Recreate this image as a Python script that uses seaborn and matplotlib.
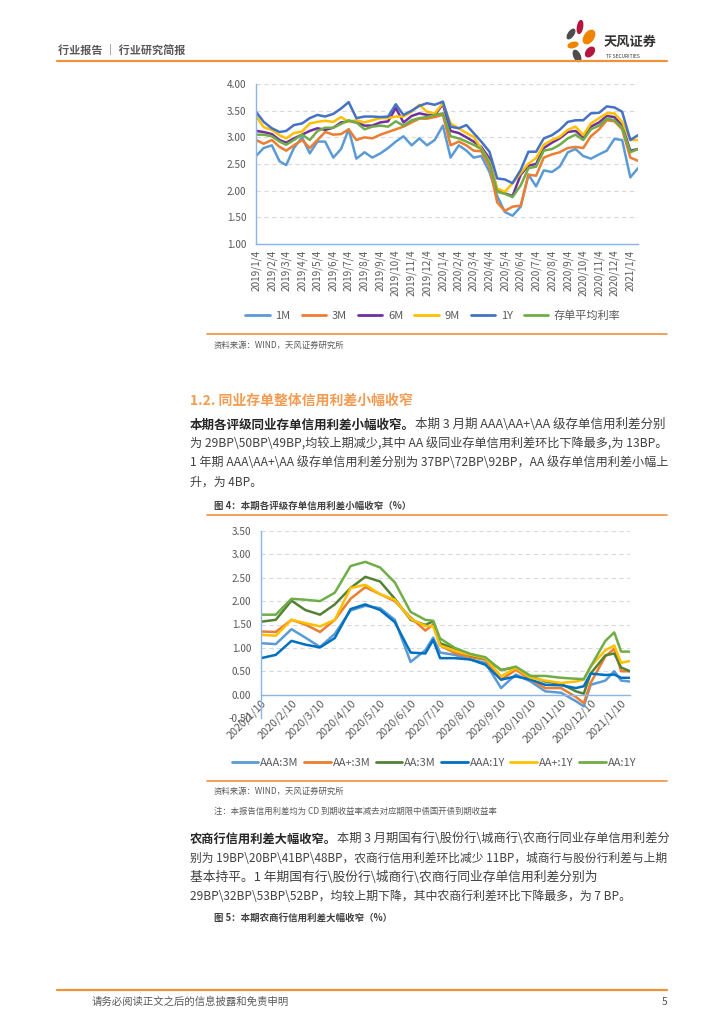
import pandas as pd
import matplotlib
matplotlib.use("Agg")
import matplotlib.pyplot as plt
import matplotlib.dates as mdates
from matplotlib.lines import Line2D
from matplotlib.patches import Ellipse
from matplotlib.ticker import FixedLocator, FuncFormatter
import seaborn as sns

sns.set_theme(style="white")
plt.rcParams['font.family'] = ['Noto Sans CJK SC', 'DejaVu Sans']
plt.rcParams['axes.unicode_minus'] = False

W, H = 724, 1024

# ---------------- chart 1 data: CD yields by tenor (%) ----------------
series1 = ['1M', '3M', '6M', '9M', '1Y', '存单平均利率']
colors1 = ['#5B9BD5', '#ED7D31', '#7030A0', '#FFC000', '#4472C4', '#70AD47']

yield_1m = [2.65, 2.80, 2.85, 2.55, 2.48, 2.80, 3.00, 2.70, 2.92, 2.92,
            2.62, 2.78, 3.15, 2.60, 2.72, 2.62, 2.70, 2.80, 2.92, 3.02,
            2.85, 2.98, 2.85, 2.95, 3.22, 2.62, 2.85, 2.75, 2.62, 2.65,
            2.35, 1.90, 1.60, 1.53, 1.70, 2.30, 2.08, 2.38, 2.35, 2.45,
            2.72, 2.78, 2.65, 2.60, 2.68, 2.75, 2.97, 2.95, 2.25, 2.42]
yield_3m = [2.95, 2.88, 2.95, 2.82, 2.75, 2.85, 2.95, 2.80, 2.95, 3.10,
            3.05, 3.06, 3.15, 2.95, 3.00, 2.98, 3.05, 3.10, 3.15, 3.20,
            3.28, 3.35, 3.35, 3.38, 3.42, 2.85, 2.92, 2.85, 2.75, 2.74,
            2.45, 1.78, 1.62, 1.70, 1.72, 2.30, 2.28, 2.62, 2.68, 2.72,
            2.80, 2.82, 2.80, 3.02, 3.15, 3.32, 3.30, 3.15, 2.62, 2.56]
yield_6m = [3.12, 3.10, 3.06, 2.95, 2.90, 2.98, 3.05, 3.12, 3.17, 3.14,
            3.18, 3.28, 3.30, 3.28, 3.22, 3.22, 3.28, 3.30, 3.55, 3.28,
            3.40, 3.45, 3.42, 3.42, 3.62, 3.12, 3.08, 3.00, 2.92, 2.82,
            2.60, 2.00, 1.95, 1.90, 2.30, 2.47, 2.50, 2.80, 2.90, 2.98,
            3.10, 3.12, 3.00, 3.20, 3.28, 3.40, 3.38, 3.22, 2.75, 2.78]
yield_9m = [3.40, 3.19, 3.14, 3.04, 2.98, 3.08, 3.11, 3.26, 3.29, 3.31,
            3.29, 3.38, 3.29, 3.32, 3.28, 3.32, 3.36, 3.36, 3.39, 3.39,
            3.48, 3.61, 3.48, 3.45, 3.64, 3.26, 3.17, 3.08, 3.01, 2.79,
            2.54, 2.04, 1.98, 2.14, 2.33, 2.51, 2.61, 2.86, 2.95, 3.01,
            3.14, 3.20, 3.04, 3.26, 3.36, 3.45, 3.45, 3.29, 2.95, 2.95]
yield_1y = [3.48, 3.29, 3.17, 3.10, 3.12, 3.23, 3.26, 3.36, 3.42, 3.39,
            3.44, 3.54, 3.66, 3.36, 3.39, 3.39, 3.38, 3.39, 3.62, 3.42,
            3.50, 3.59, 3.64, 3.61, 3.67, 3.20, 3.17, 3.23, 3.08, 2.92,
            2.73, 2.23, 2.21, 2.14, 2.39, 2.73, 2.73, 2.98, 3.04, 3.14,
            3.29, 3.32, 3.32, 3.45, 3.46, 3.58, 3.56, 3.48, 2.95, 3.04]
yield_avg = [3.05, 3.05, 3.02, 2.92, 2.86, 2.95, 3.05, 2.95, 3.12, 3.18,
             3.18, 3.25, 3.32, 3.28, 3.15, 3.20, 3.22, 3.20, 3.30, 3.22,
             3.32, 3.36, 3.38, 3.42, 3.45, 3.02, 2.98, 2.92, 2.86, 2.78,
             2.52, 1.98, 1.94, 1.88, 2.10, 2.42, 2.45, 2.75, 2.78, 2.86,
             2.98, 3.05, 2.95, 3.15, 3.22, 3.35, 3.32, 3.18, 2.72, 2.78]

# half-month observation dates, 2019/1/4 .. 2021/1/19
dates1 = []
for k in range(25):
    d = pd.Timestamp('2019-01-04') + pd.DateOffset(months=k)
    dates1 += [d, d + pd.Timedelta(days=15)]

# ---------------- chart 2 data: credit spreads by rating (%) ----------------
series2 = ['AAA:3M', 'AA+:3M', 'AA:3M', 'AAA:1Y', 'AA+:1Y', 'AA:1Y']
colors2 = ['#5B9BD5', '#ED7D31', '#548235', '#0070C0', '#FFC000', '#70AD47']

dates2 = ['2020-01-10', '2020-01-25', '2020-02-10', '2020-02-24', '2020-03-10',
          '2020-03-25', '2020-04-10', '2020-04-25', '2020-05-10', '2020-05-25',
          '2020-06-10', '2020-06-25', '2020-07-03', '2020-07-10', '2020-07-25',
          '2020-08-10', '2020-08-25', '2020-09-10', '2020-09-25', '2020-10-10',
          '2020-10-25', '2020-11-10', '2020-11-25', '2020-12-03', '2020-12-10',
          '2020-12-25', '2021-01-03', '2021-01-10', '2021-01-19']
spread_aaa_3m = [1.10, 1.08, 1.40, 1.22, 1.02, 1.30, 1.80, 1.90, 1.85, 1.60,
                 0.70, 0.95, 1.22, 0.90, 0.85, 0.75, 0.68, 0.14, 0.43, 0.28,
                 0.07, 0.04, -0.14, -0.25, 0.21, 0.30, 0.50, 0.30, 0.28]
spread_aap_3m = [1.35, 1.34, 1.60, 1.50, 1.34, 1.60, 2.05, 2.30, 2.15, 2.00,
                 1.65, 1.37, 1.50, 1.05, 0.89, 0.80, 0.75, 0.32, 0.53, 0.32,
                 0.14, 0.14, -0.05, -0.18, 0.25, 0.82, 0.98, 0.50, 0.50]
spread_aa_3m = [1.56, 1.60, 2.01, 1.81, 1.71, 1.93, 2.28, 2.52, 2.42, 2.05,
                1.60, 1.49, 1.57, 1.10, 0.98, 0.84, 0.77, 0.53, 0.58, 0.39,
                0.28, 0.23, 0.07, 0.02, 0.45, 0.84, 0.88, 0.58, 0.50]
spread_aaa_1y = [0.78, 0.85, 1.15, 1.07, 1.01, 1.21, 1.83, 1.93, 1.81, 1.55,
                 0.90, 0.88, 1.17, 0.78, 0.78, 0.75, 0.64, 0.32, 0.39, 0.32,
                 0.21, 0.20, 0.14, 0.18, 0.45, 0.42, 0.43, 0.36, 0.36]
spread_aap_1y = [1.28, 1.26, 1.60, 1.53, 1.46, 1.60, 2.28, 2.35, 2.15, 2.03,
                 1.62, 1.47, 1.46, 1.05, 0.94, 0.85, 0.78, 0.39, 0.57, 0.36,
                 0.30, 0.25, 0.28, 0.32, 0.60, 0.95, 1.05, 0.68, 0.72]
spread_aa_1y = [1.71, 1.71, 2.05, 2.03, 2.00, 2.18, 2.75, 2.84, 2.72, 2.40,
                1.77, 1.60, 1.58, 1.20, 1.00, 0.87, 0.80, 0.52, 0.60, 0.40,
                0.40, 0.36, 0.34, 0.33, 0.60, 1.15, 1.33, 0.92, 0.92]

ORANGE = '#F0923A'
GRAY = '#595959'
AXIS_BLUE = '#8DB4E2'


def fx(x):
    return x / W


def fy(y):
    return 1 - y / H


def long_frame(dates, names, columns):
    parts = []
    for name, vals in zip(names, columns):
        parts.append(pd.DataFrame({'date': pd.to_datetime(dates), 'value': vals, 'series': name}))
    return pd.concat(parts, ignore_index=True)


def hline(y, x0=207, x1=667, color=ORANGE, lw=1.2):
    fig.add_artist(Line2D([fx(x0), fx(x1)], [fy(y), fy(y)], color=color, lw=lw))


def style_axes(ax, ymin, ymax):
    ax.set_ylim(ymin, ymax)
    ticks = [ymin + 0.5 * i for i in range(int(round((ymax - ymin) / 0.5)) + 1)]
    ax.yaxis.set_major_locator(FixedLocator(ticks))
    ax.yaxis.set_major_formatter(FuncFormatter(lambda v, p: f'{v:.2f}'))
    ax.grid(axis='y', linestyle=(0, (4, 3)), color='#D9D9D9', lw=0.8)
    ax.set_axisbelow(True)
    for s in ['top', 'right']:
        ax.spines[s].set_visible(False)
    for s in ['left', 'bottom']:
        ax.spines[s].set_color(AXIS_BLUE)
        ax.spines[s].set_linewidth(1.0)
    ax.tick_params(axis='both', length=0, labelsize=7.2, labelcolor=GRAY)
    ax.tick_params(axis='y', pad=7)
    ax.set_xlabel('')
    ax.set_ylabel('')
    ax.set_facecolor('white')


def date_label(d, pos=None):
    d = mdates.num2date(d)
    return f'{d.year}/{d.month}/{d.day}'


fig = plt.figure(figsize=(W / 100, H / 100), dpi=100)
fig.patch.set_facecolor('white')
renderer = fig.canvas.get_renderer()

# ---------------- header ----------------
fig.text(fx(58), fy(50), '行业报告 ｜ 行业研究简报', fontsize=8, color=GRAY,
         fontweight='bold', va='center', ha='left')
hline(61, 57, 667, lw=1.6)
logo = fig.add_axes([fx(563), fy(64), fx(40), 46 / H])
logo.set_xlim(0, 40)
logo.set_ylim(46, 0)
logo.set_aspect('equal')
logo.axis('off')
for (cx, cy, w, h, a, c) in [(17, 9, 5, 13, 10, '#B5173E'), (26, 19, 9, 15, 35, '#F08300'),
                              (8, 16, 5, 11, 35, '#4D4D4D'), (10, 27, 10, 5, -15, '#F08300'),
                              (14, 38, 6, 12, -25, '#4D4D4D'), (27, 34, 7, 11, 40, '#B5173E')]:
    logo.add_patch(Ellipse((cx, cy), w, h, angle=a, color=c))
fig.text(fx(604), fy(42), '天风证券', fontsize=9.5, fontweight='bold', color='#333333',
         va='center', ha='left')
fig.text(fx(606), fy(56), 'TF SECURITIES', fontsize=3.5, color='#333333', va='center', ha='left')

# ---------------- chart 1 ----------------
ax1 = fig.add_axes([fx(256), fy(244), fx(382), 160 / H])
df1 = long_frame(dates1, series1, [yield_1m, yield_3m, yield_6m, yield_9m, yield_1y, yield_avg])
sns.lineplot(data=df1, x='date', y='value', hue='series', hue_order=series1,
             palette=dict(zip(series1, colors1)), linewidth=1.8, estimator=None,
             legend=False, ax=ax1)
style_axes(ax1, 1.0, 4.0)
ticks1 = [pd.Timestamp('2019-01-04') + pd.DateOffset(months=k) for k in range(25)]
ax1.xaxis.set_major_locator(FixedLocator(mdates.date2num(ticks1)))
ax1.xaxis.set_major_formatter(FuncFormatter(date_label))
ax1.set_xlim(mdates.date2num(pd.Timestamp('2019-01-04')), mdates.date2num(pd.Timestamp('2021-01-19')))
ax1.tick_params(axis='x', rotation=90, pad=4)

h1 = [Line2D([0], [0], color=c, lw=2) for c in colors1]
fig.legend(h1, series1, loc='center', bbox_to_anchor=(fx(433), fy(316)), ncol=6,
           frameon=False, fontsize=8, labelcolor=GRAY, handlelength=2.2,
           handletextpad=0.5, columnspacing=1.0)
hline(334)
fig.text(fx(214), fy(345), '资料来源：WIND，天风证券研究所', fontsize=6, color=GRAY, va='center')

# ---------------- section 1.2 text ----------------
fig.text(fx(190), fy(401), '1.2. 同业存单整体信用利差小幅收窄', fontsize=10, color='#F39B50',
         fontweight='bold', va='center')


def para_line(y, text, bold=None, size=8.6, justify=True, x0=190, x1=665):
    # full lines are stretched to the text block width by tuning the font size a little
    if justify:
        probe = fig.text(0, 0, (bold or '') + text, fontsize=size)
        wpx = probe.get_window_extent(renderer=renderer).width
        probe.remove()
        size = max(7.8, min(9.2, size * (x1 - x0) / wpx))
    x = fx(x0)
    if bold:
        t = fig.text(x, fy(y), bold, fontsize=size, fontweight='bold', color='#262626', va='center')
        bb = t.get_window_extent(renderer=renderer)
        x = fx(bb.x1)
    fig.text(x, fy(y), text, fontsize=size, color='#404040', va='center')


para_line(425, '本期 3 月期 AAA\\AA+\\AA 级存单信用利差分别', bold='本期各评级同业存单信用利差小幅收窄。')
para_line(444, '为 29BP\\50BP\\49BP,均较上期减少,其中 AA 级同业存单信用利差环比下降最多,为 13BP。')
para_line(463, '1 年期 AAA\\AA+\\AA 级存单信用利差分别为 37BP\\72BP\\92BP，AA 级存单信用利差小幅上')
para_line(482, '升，为 4BP。', justify=False)

fig.text(fx(214), fy(506), '图 4：本期各评级存单信用利差小幅收窄（%）', fontsize=6.8,
         fontweight='bold', color='#404040', va='center')
hline(515)

# ---------------- chart 2 ----------------
ax2 = fig.add_axes([fx(261), fy(718), fx(369), 187 / H])
df2 = long_frame(dates2, series2, [spread_aaa_3m, spread_aap_3m, spread_aa_3m,
                                   spread_aaa_1y, spread_aap_1y, spread_aa_1y])
sns.lineplot(data=df2, x='date', y='value', hue='series', hue_order=series2,
             palette=dict(zip(series2, colors2)), linewidth=1.8, estimator=None,
             legend=False, ax=ax2)
style_axes(ax2, -0.5, 3.5)
ax2.spines['bottom'].set_position(('data', 0))
ticks2 = [pd.Timestamp('2020-01-10') + pd.DateOffset(months=k) for k in range(13)]
ax2.xaxis.set_major_locator(FixedLocator(mdates.date2num(ticks2)))
ax2.xaxis.set_major_formatter(FuncFormatter(date_label))
ax2.set_xlim(mdates.date2num(pd.Timestamp('2020-01-10')), mdates.date2num(pd.Timestamp('2021-01-19')))
ax2.tick_params(axis='x', pad=2, labelsize=7.8)
for lab in ax2.get_xticklabels():
    lab.set_rotation(45)
    lab.set_ha('right')
    lab.set_rotation_mode('anchor')

h2 = [Line2D([0], [0], color=c, lw=2) for c in colors2]
fig.legend(h2, series2, loc='center', bbox_to_anchor=(fx(434), fy(763)), ncol=6,
           frameon=False, fontsize=8, labelcolor=GRAY, handlelength=2.4,
           handletextpad=0.2, columnspacing=0.45)
hline(781)
fig.text(fx(214), fy(791), '资料来源：WIND，天风证券研究所', fontsize=6, color=GRAY, va='center')
fig.text(fx(214), fy(811), '注：本报告信用利差均为 CD 到期收益率减去对应期限中债国开债到期收益率',
         fontsize=6, color=GRAY, va='center')

# ---------------- second paragraph ----------------
para_line(839, '本期 3 月期国有行\\股份行\\城商行\\农商行同业存单信用利差分', bold='农商行信用利差大幅收窄。')
para_line(858, '别为 19BP\\20BP\\41BP\\48BP，农商行信用利差环比减少 11BP，城商行与股份行利差与上期')
para_line(877, '基本持平。1 年期国有行\\股份行\\城商行\\农商行同业存单信用利差分别为')
para_line(896, '29BP\\32BP\\53BP\\52BP，均较上期下降，其中农商行利差环比下降最多，为 7 BP。', justify=False)
fig.text(fx(214), fy(918), '图 5：本期农商行信用利差大幅收窄（%）', fontsize=6.8,
         fontweight='bold', color='#404040', va='center')

# ---------------- footer ----------------
hline(990, 57, 667, lw=1.6)
fig.text(fx(92), fy(1002), '请务必阅读正文之后的信息披露和免责申明', fontsize=7.5, color=GRAY, va='center')
fig.text(fx(662), fy(1002), '5', fontsize=7.5, color=GRAY, va='center')

fig.savefig('out.png', dpi=100, facecolor='white')
